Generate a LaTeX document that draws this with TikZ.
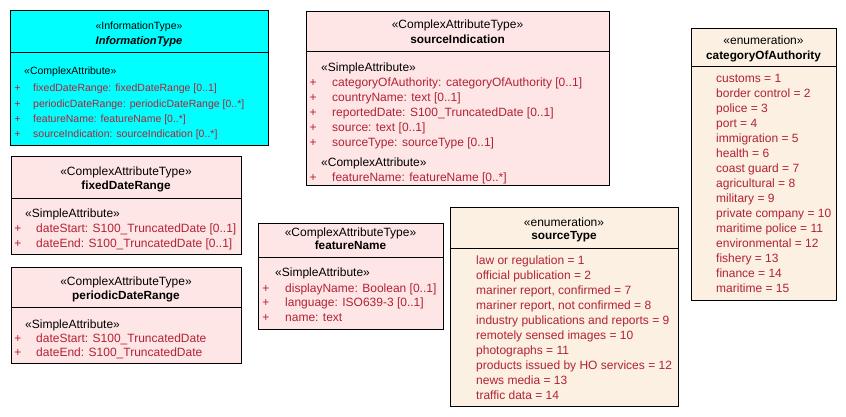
\documentclass[tikz,border=0pt]{standalone}
\usepackage{fontspec}
\setmainfont{Liberation Sans}
\definecolor{attrred}{RGB}{178,34,52}
\definecolor{pinkfill}{RGB}{255,230,230}
\definecolor{beigefill}{RGB}{251,240,226}
\definecolor{cyanfill}{RGB}{0,255,255}
\begin{document}
\begin{tikzpicture}[x=1pt,y=-1pt,
  classbox/.style={draw=black, line width=1pt, inner sep=0, anchor=north west},
  big/.style={font=\fontsize{12}{14}\selectfont},
  small/.style={font=\fontsize{10.5}{12}\selectfont},
  ster/.style={inner sep=0, anchor=mid, yshift=-2.2pt, big},
  ttl/.style={inner sep=0, anchor=mid, yshift=-2.2pt, font=\fontsize{11.8}{14}\selectfont\bfseries},
  attr/.style={inner sep=0, anchor=mid west, yshift=-2.2pt, text=attrred, big},
  plus/.style={inner sep=0, anchor=mid, yshift=-2.2pt, text=attrred, big},
  sect/.style={inner sep=0, anchor=mid west, yshift=-2.2pt, big},
  divider/.style={line width=1pt}]
\useasboundingbox (0,0) rectangle (846,417);

% InformationType
\node[classbox, fill=cyanfill, minimum width=258pt, minimum height=135pt] (it) at (10,10) {};
\draw[divider] (10,53) -- (268,53);
\node[ster, small] (its) at (139,25) {«InformationType»};
\node[ttl, font=\fontsize{11.1}{13}\selectfont\bfseries\itshape] (itn) at (139,40) {InformationType};
\node[sect, small] (itc) at (24,70) {«ComplexAttribute»};
\foreach \t [count=\i] in {{fixedDateRange: fixedDateRange [0..1]},{periodicDateRange: periodicDateRange [0..*]},{featureName: featureName [0..*]},{sourceIndication: sourceIndication [0..*]}}{
  \node[plus, small] (itp\i) at (17.5,{71.7+15.3*\i}) {+};
  \node[attr, small] (ita\i) at (33,{71.7+15.3*\i}) {\t};
}

% fixedDateRange
\node[classbox, fill=pinkfill, minimum width=230pt, minimum height=98pt] (fdr) at (11,156) {};
\draw[divider] (11,198) -- (241,198);
\node[ster] (fdrs) at (126,171) {«ComplexAttributeType»};
\node[ttl] (fdrn) at (126,185) {fixedDateRange};
\node[sect] (fdrc) at (25,213) {«SimpleAttribute»};
\foreach \t [count=\i] in {{dateStart: S100\_TruncatedDate [0..1]},{dateEnd: S100\_TruncatedDate [0..1]}}{
  \node[plus] (fdrp\i) at (18,{213.5+14.5*\i}) {+};
  \node[attr] (fdra\i) at (36,{213.5+14.5*\i}) {\t};
}

% periodicDateRange
\node[classbox, fill=pinkfill, minimum width=230pt, minimum height=96pt] (pdr) at (11,267) {};
\draw[divider] (11,307) -- (241,307);
\node[ster] (pdrs) at (126,281) {«ComplexAttributeType»};
\node[ttl] (pdrn) at (126,295) {periodicDateRange};
\node[sect] (pdrc) at (25,324) {«SimpleAttribute»};
\foreach \t [count=\i] in {{dateStart: S100\_TruncatedDate},{dateEnd: S100\_TruncatedDate}}{
  \node[plus] (pdrp\i) at (18,{324+14*\i}) {+};
  \node[attr] (pdra\i) at (36,{324+14*\i}) {\t};
}

% sourceIndication
\node[classbox, fill=pinkfill, minimum width=303pt, minimum height=174pt] (si) at (306,11) {};
\draw[divider] (306,52) -- (609,52);
\node[ster] (sis) at (457.5,24) {«ComplexAttributeType»};
\node[ttl] (sin) at (457.5,39) {sourceIndication};
\node[sect] (sic) at (321,67) {«SimpleAttribute»};
\foreach \t [count=\i] in {{categoryOfAuthority: categoryOfAuthority [0..1]},{countryName: text [0..1]},{reportedDate: S100\_TruncatedDate [0..1]},{source: text [0..1]},{sourceType: sourceType [0..1]}}{
  \node[plus] (sip\i) at (313,{67+15*\i}) {+};
  \node[attr] (sia\i) at (332,{67+15*\i}) {\t};
}
\node[sect] (sic2) at (321,162) {«ComplexAttribute»};
\node[plus] (sip6) at (313,177) {+};
\node[attr] (sia6) at (332,177) {featureName: featureName [0..*]};

% featureName
\node[classbox, fill=pinkfill, minimum width=185pt, minimum height=106pt] (fn) at (258,223) {};
\draw[divider] (258,257) -- (443,257);
\node[ster] (fns) at (350.5,232) {«ComplexAttributeType»};
\node[ttl] (fnn) at (350.5,245) {featureName};
\node[sect] (fnc) at (275,272) {«SimpleAttribute»};
\foreach \t [count=\i] in {{displayName: Boolean [0..1]},{language: ISO639-3 [0..1]},{name: text}}{
  \node[plus] (fnp\i) at (266,{272.5+14.8*\i}) {+};
  \node[attr] (fna\i) at (285,{272.5+14.8*\i}) {\t};
}

% sourceType
\node[classbox, fill=beigefill, minimum width=228pt, minimum height=199pt] (st) at (450,207) {};
\draw[divider] (450,248) -- (678,248);
\node[ster] (sts) at (564,222) {«enumeration»};
\node[ttl] (stn) at (564,235) {sourceType};
\foreach \t [count=\i] in {{law or regulation = 1},{official publication = 2},{mariner report, confirmed = 7},{mariner report, not confirmed = 8},{industry publications and reports = 9},{remotely sensed images = 10},{photographs = 11},{products issued by HO services = 12},{news media = 13},{traffic data = 14}}{
  \node[attr] (sta\i) at (476,{245+15*\i}) {\t};
}

% categoryOfAuthority
\node[classbox, fill=beigefill, minimum width=145pt, minimum height=272pt] (coa) at (691,28) {};
\draw[divider] (691,67) -- (836,67);
\node[ster] (coas) at (763.5,40) {«enumeration»};
\node[ttl] (coan) at (763.5,55) {categoryOfAuthority};
\foreach \t [count=\i] in {{customs = 1},{border control = 2},{police = 3},{port = 4},{immigration = 5},{health = 6},{coast guard = 7},{agricultural = 8},{military = 9},{private company = 10},{maritime police = 11},{environmental = 12},{fishery = 13},{finance = 14},{maritime = 15}}{
  \node[attr] (coaa\i) at (716,{63+15*\i}) {\t};
}
\end{tikzpicture}
\end{document}
